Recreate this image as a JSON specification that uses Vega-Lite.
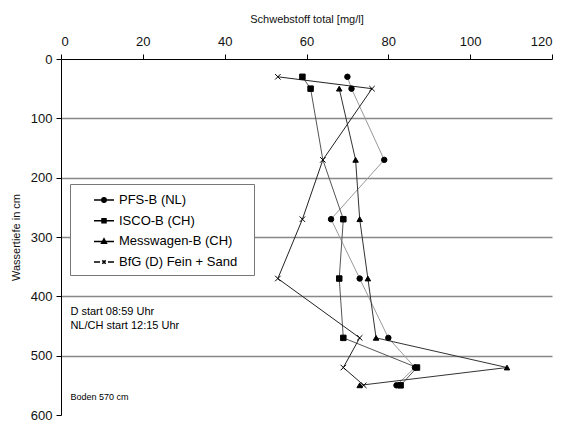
{
  "$schema": "https://vega.github.io/schema/vega-lite/v6.json",
  "width": 491,
  "height": 356,
  "autosize": "none",
  "padding": {"left": 61, "top": 59, "right": 18, "bottom": 6},
  "background": "white",
  "config": {
    "font": "Liberation Sans",
    "view": {"stroke": null},
    "axis": {
      "domainColor": "#000",
      "domainWidth": 1,
      "tickColor": "#000",
      "tickWidth": 1,
      "tickSize": 5,
      "labelFont": "Liberation Sans",
      "labelFontSize": 13,
      "labelColor": "#111",
      "titleFont": "Liberation Sans",
      "titleFontSize": 11,
      "titleFontWeight": "normal",
      "titleColor": "#111"
    }
  },
  "datasets": {
    "profiles": [
      {"s": "PFS-B (NL)", "d": 30, "v": 70},
      {"s": "PFS-B (NL)", "d": 50, "v": 71},
      {"s": "PFS-B (NL)", "d": 170, "v": 79},
      {"s": "PFS-B (NL)", "d": 270, "v": 66},
      {"s": "PFS-B (NL)", "d": 370, "v": 73},
      {"s": "PFS-B (NL)", "d": 470, "v": 80},
      {"s": "PFS-B (NL)", "d": 520, "v": 86.5},
      {"s": "PFS-B (NL)", "d": 550, "v": 82},
      {"s": "ISCO-B (CH)", "d": 30, "v": 59},
      {"s": "ISCO-B (CH)", "d": 50, "v": 61},
      {"s": "ISCO-B (CH)", "d": 170, "v": 64},
      {"s": "ISCO-B (CH)", "d": 270, "v": 69},
      {"s": "ISCO-B (CH)", "d": 370, "v": 68},
      {"s": "ISCO-B (CH)", "d": 470, "v": 69},
      {"s": "ISCO-B (CH)", "d": 520, "v": 87},
      {"s": "ISCO-B (CH)", "d": 550, "v": 83},
      {"s": "Messwagen-B (CH)", "d": 50, "v": 68},
      {"s": "Messwagen-B (CH)", "d": 170, "v": 72},
      {"s": "Messwagen-B (CH)", "d": 270, "v": 73},
      {"s": "Messwagen-B (CH)", "d": 370, "v": 75},
      {"s": "Messwagen-B (CH)", "d": 470, "v": 77},
      {"s": "Messwagen-B (CH)", "d": 520, "v": 109},
      {"s": "Messwagen-B (CH)", "d": 550, "v": 73},
      {"s": "BfG (D) Fein + Sand", "d": 30, "v": 53},
      {"s": "BfG (D) Fein + Sand", "d": 50, "v": 76},
      {"s": "BfG (D) Fein + Sand", "d": 170, "v": 64},
      {"s": "BfG (D) Fein + Sand", "d": 270, "v": 59},
      {"s": "BfG (D) Fein + Sand", "d": 370, "v": 53},
      {"s": "BfG (D) Fein + Sand", "d": 470, "v": 73},
      {"s": "BfG (D) Fein + Sand", "d": 520, "v": 69},
      {"s": "BfG (D) Fein + Sand", "d": 550, "v": 74}
    ],
    "notes": [
      {"t": "D start 08:59 Uhr", "v": 2.3, "d": 426},
      {"t": "NL/CH start 12:15 Uhr", "v": 2.3, "d": 450}
    ],
    "floor": [
      {"t": "Boden 570 cm", "v": 2.3, "d": 569}
    ]
  },
  "encoding": {
    "x": {
      "field": "v",
      "type": "quantitative",
      "scale": {"domain": [0, 120], "nice": false, "zero": false},
      "axis": {
        "orient": "top",
        "values": [0, 20, 40, 60, 80, 100, 120],
        "grid": false,
        "labelPadding": 6,
        "titlePadding": 11,
        "title": "Schwebstoff total [mg/l]"
      }
    },
    "y": {
      "field": "d",
      "type": "quantitative",
      "scale": {"domain": [0, 600], "nice": false, "reverse": true},
      "axis": {
        "orient": "left",
        "values": [0, 100, 200, 300, 400, 500, 600],
        "grid": true,
        "gridColor": {"condition": {"test": "datum.value === 0 || datum.value === 600", "value": "transparent"}, "value": "#888888"},
        "gridWidth": 1.5,
        "labelPadding": 4,
        "titlePadding": 9,
        "title": "Wassertiefe in cm"
      }
    }
  },
  "layer": [
    {
      "data": {"name": "profiles"},
      "mark": {"type": "line", "strokeWidth": 1},
      "encoding": {
        "color": {
          "field": "s",
          "type": "nominal",
          "scale": {
            "domain": ["PFS-B (NL)", "ISCO-B (CH)", "Messwagen-B (CH)", "BfG (D) Fein + Sand"],
            "range": ["#999999", "#555555", "#333333", "#222222"]
          },
          "legend": null
        },
        "order": {"field": "d", "type": "quantitative"}
      }
    },
    {
      "data": {"name": "profiles"},
      "transform": [{"filter": "!(datum.s === 'ISCO-B (CH)' && datum.d === 170)"}],
      "mark": {"type": "point", "filled": true, "fill": "#000", "stroke": "#000", "strokeWidth": 1, "opacity": 1, "size": 30},
      "encoding": {
        "shape": {
          "field": "s",
          "type": "nominal",
          "scale": {
            "domain": ["PFS-B (NL)", "ISCO-B (CH)", "Messwagen-B (CH)", "BfG (D) Fein + Sand"],
            "range": ["circle", "square", "triangle-up", "M-1,-1L1,1M-1,1L1,-1"]
          },
          "legend": null
        }
      }
    },
    {
      "data": {"name": "profiles"},
      "mark": {"type": "point", "filled": true, "fill": "#000", "stroke": "#000", "opacity": 0, "size": 400},
      "encoding": {
        "shape": {
          "field": "s",
          "type": "nominal",
          "scale": {
            "domain": ["PFS-B (NL)", "ISCO-B (CH)", "Messwagen-B (CH)", "BfG (D) Fein + Sand"],
            "range": [
              "M-1,0H1M0.22,0A0.22,0.22 0 1 1 -0.22,0A0.22,0.22 0 1 1 0.22,0Z",
              "M-1,0H1M-0.2,-0.2H0.2V0.2H-0.2Z",
              "M-1,0H1M0,-0.25L0.24,0.18H-0.24Z",
              "M-1,0H-0.4M0.4,0H1M-0.17,-0.17L0.17,0.17M-0.17,0.17L0.17,-0.17"
            ]
          },
          "legend": {
            "title": "\u00a0",
            "titleOrient": "right",
            "titlePadding": 12,
            "titleFontSize": 4,
            "orient": "none",
            "legendX": 9,
            "legendY": 125,
            "padding": 5,
            "symbolOffset": 18,
            "symbolSize": 400,
            "rowPadding": 2.7,
            "labelOffset": 4,
            "labelFont": "Liberation Sans",
            "labelFontSize": 13,
            "labelColor": "#000",
            "strokeColor": "#777777",
            "fillColor": "#ffffff",
            "encode": {
              "legend": {"update": {"strokeWidth": {"value": 1.5}}},
              "symbols": {
                "update": {
                  "opacity": {"value": 1},
                  "fill": {"value": "#000"},
                  "stroke": {"value": "#000"},
                  "strokeWidth": {"value": 1.2}
                }
              }
            }
          }
        }
      }
    },
    {
      "data": {"name": "notes"},
      "mark": {"type": "text", "align": "left", "baseline": "middle", "fontSize": 11, "font": "Liberation Sans", "color": "#000"},
      "encoding": {"text": {"field": "t"}}
    },
    {
      "data": {"name": "floor"},
      "mark": {"type": "text", "align": "left", "baseline": "middle", "fontSize": 9, "font": "Liberation Sans", "color": "#000"},
      "encoding": {"text": {"field": "t"}}
    }
  ],
  "resolve": {"scale": {"shape": "independent", "color": "independent"}, "legend": {"shape": "independent"}}
}
